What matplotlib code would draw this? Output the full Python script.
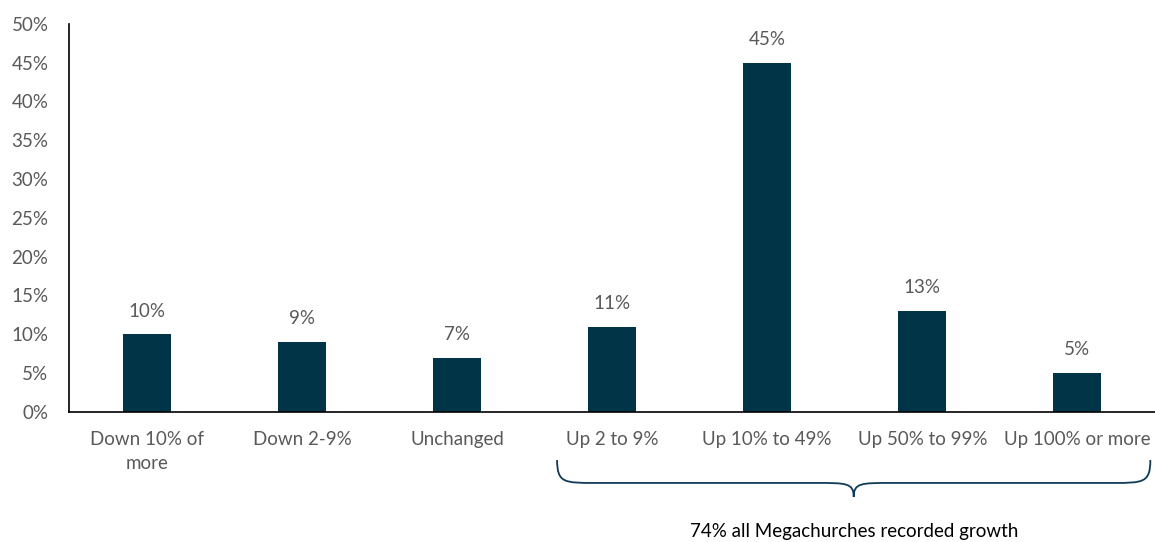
import matplotlib
matplotlib.use("Agg")
import matplotlib.pyplot as plt
from matplotlib.path import Path
from matplotlib.patches import PathPatch
import matplotlib.transforms as mtransforms

categories = ["Down 10% of\nmore", "Down 2-9%", "Unchanged", "Up 2 to 9%",
              "Up 10% to 49%", "Up 50% to 99%", "Up 100% or more"]
shares = [10, 9, 7, 11, 45, 13, 5]
growth_note = "74% all Megachurches recorded growth"

bar_color = "#023447"
text_color = "#595959"
plt.rcParams["font.family"] = ["Lato", "DejaVu Sans"]
fs = 13.5

fig = plt.figure(figsize=(11.55, 5.42), dpi=100)
ax = fig.add_axes([0.06, 0.24, 0.94, 0.716])

x = range(len(categories))
bars = ax.bar(x, shares, width=0.31, color=bar_color)
for b, v in zip(bars, shares):
    ax.text(b.get_x() + b.get_width() / 2, v + 3.0, f"{v}%",
            ha="center", va="center", fontsize=fs, color=text_color)

ax.set_xlim(-0.5, len(categories) - 0.5)
ax.set_ylim(0, 50)
ax.set_yticks(range(0, 51, 5))
ax.set_yticklabels([f"{t}%" for t in range(0, 51, 5)])
ax.set_xticks(list(x))
ax.set_xticklabels(categories, linespacing=1.5)
ax.tick_params(axis="both", length=0, labelsize=fs, colors=text_color)
ax.tick_params(axis="x", pad=14)
ax.tick_params(axis="y", pad=15)
for s in ["top", "right"]:
    ax.spines[s].set_visible(False)
for s in ["left", "bottom"]:
    ax.spines[s].set_color("black")
    ax.spines[s].set_linewidth(1.2)

# curly brace under the growth categories
trans = mtransforms.blended_transform_factory(ax.transData, ax.transAxes)
x0, x1 = 3 - 0.355, 6 + 0.47
xm = (x0 + x1) / 2
ytop, ymid, ytip = -0.124, -0.183, -0.219
r = 0.24
verts = [
    (x0, ytop), (x0, ymid), (x0 + r * 0.2, ymid), (x0 + r, ymid),
    (xm - r, ymid), (xm - r * 0.2, ymid), (xm, ymid), (xm, ytip),
    (xm, ymid), (xm + r * 0.2, ymid), (xm + r, ymid),
    (x1 - r, ymid), (x1 - r * 0.2, ymid), (x1, ymid), (x1, ytop),
]
codes = [Path.MOVETO, Path.CURVE4, Path.CURVE4, Path.CURVE4,
         Path.LINETO, Path.CURVE4, Path.CURVE4, Path.CURVE4,
         Path.CURVE4, Path.CURVE4, Path.CURVE4,
         Path.LINETO, Path.CURVE4, Path.CURVE4, Path.CURVE4]
brace = PathPatch(Path(verts, codes), transform=trans, fill=False,
                  edgecolor="#0f3b57", linewidth=1.3, clip_on=False)
ax.add_patch(brace)

ax.text(xm, -0.307, growth_note, transform=trans, ha="center", va="center",
        fontsize=fs, color="black")

fig.savefig("out.png", dpi=100)
